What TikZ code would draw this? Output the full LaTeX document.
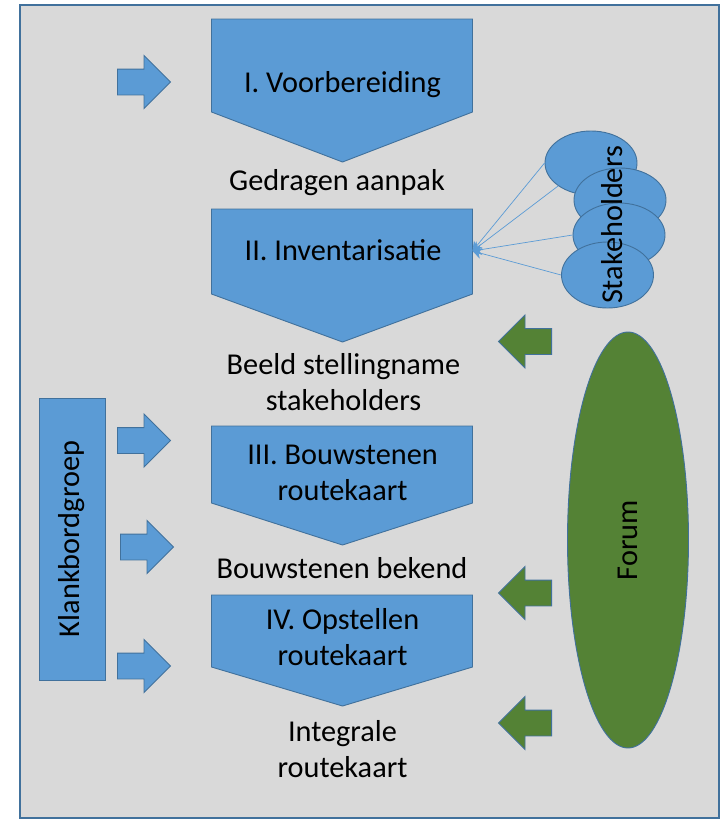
\documentclass[tikz,border=0pt]{standalone}
\usepackage{fontspec}
\setmainfont{Carlito}
\usetikzlibrary{shapes.arrows,shapes.geometric,arrows.meta}
\definecolor{stageblue}{HTML}{5B9BD5}
\definecolor{edgeblue}{HTML}{41719C}
\definecolor{forumgreen}{HTML}{548235}
\definecolor{panelgray}{HTML}{D9D9D9}

\begin{document}
\begin{tikzpicture}[x=1pt, y=-1pt,
  stage/.style={fill=stageblue, draw=edgeblue, line width=0.9pt},
  lbl/.style={font=\fontsize{30.3}{36}\selectfont, align=center, inner sep=0pt},
  blockarrow/.style={single arrow, single arrow tip angle=90, single arrow head extend=13.5pt,
    single arrow head indent=0pt, text height=12.5pt, text depth=12.5pt, inner sep=0pt,
    minimum height=53pt, anchor=tail, draw=edgeblue, line width=0.9pt},
  inarrow/.style={blockarrow, fill=stageblue},
  forumarrow/.style={blockarrow, fill=forumgreen, rotate=180},
  holder/.style={ellipse, fill=stageblue, draw=edgeblue, line width=0.9pt,
    minimum width=92pt, minimum height=64pt, inner sep=0pt},
  feed/.style={draw=stageblue, line width=0.7pt, -{Stealth[length=9pt,width=11pt]}}
]
\useasboundingbox (0,0) rectangle (721,819);
\draw[fill=panelgray, draw=edgeblue, line width=1.3pt] (20,5) rectangle (719,818);

\draw[stage] (211.5,19) -- (472.5,19) -- (472.5,112) -- (342.5,162) -- (211.5,112) -- cycle;
\draw[stage] (211.5,209) -- (472.5,209) -- (472.5,294) -- (342.5,342) -- (211.5,294) -- cycle;
\draw[stage] (211.5,426) -- (472.5,426) -- (472.5,503) -- (342.5,545) -- (211.5,503) -- cycle;
\draw[stage] (211.5,595) -- (472.5,595) -- (472.5,667) -- (342.5,706) -- (211.5,667) -- cycle;
\coordinate (s2e) at (472.5,251);

% two-line labels sit on the baseline of their last line
\node[lbl, anchor=base] (s1) at (342.5,92) {I. Voorbereiding};
\node[lbl, anchor=base] (r1) at (337,190) {Gedragen aanpak};
\node[lbl, anchor=base] (s2) at (343,260) {II. Inventarisatie};
\node[lbl, anchor=base] (r2) at (343.5,410) {Beeld stellingname\\stakeholders};
\node[lbl, anchor=base] (s3) at (342.5,500) {III. Bouwstenen\\routekaart};
\node[lbl, anchor=base] (r3) at (342,578) {Bouwstenen bekend};
\node[lbl, anchor=base] (s4) at (342.5,665) {IV. Opstellen\\routekaart};
\node[lbl, anchor=base] (r4) at (342.5,777) {Integrale\\routekaart};

\node[inarrow] (k1) at (117,82) {};
\node[inarrow] (k2) at (117,440.5) {};
\node[inarrow] (k3) at (120,547) {};
\node[inarrow] (k4) at (117,666) {};
\node[fill=stageblue, draw=edgeblue, line width=0.9pt, rotate=90, minimum width=282pt,
  minimum height=66pt, font=\fontsize{30.3}{36}\selectfont] (kb) at (72,539) {Klankbordgroep};

\node[forumarrow] (f1) at (552,341.5) {};
\node[forumarrow] (f2) at (552,593) {};
\node[forumarrow] (f3) at (552,723) {};
\node[ellipse, fill=forumgreen, draw=edgeblue, line width=0.9pt, rotate=90, inner sep=0pt,
  minimum width=416pt, minimum height=121pt, font=\fontsize{30.3}{36}\selectfont] (fo) at (628,540) {Forum};

\node[holder] (e1) at (591,163) {};
\node[holder] (e2) at (620,200) {};
\node[holder] (e3) at (619,235) {};
\node[holder, minimum height=66pt] (e4) at (607.5,275) {};
\node[lbl, rotate=90] (sh) at (612,225) {Stakeholders};

\draw[feed] (e1.west) -- (s2e);
\draw[feed] (e1.south west) -- (s2e);
\draw[feed] (e3.west) -- (s2e);
\draw[feed] (e4.west) -- (s2e);
\end{tikzpicture}
\end{document}
